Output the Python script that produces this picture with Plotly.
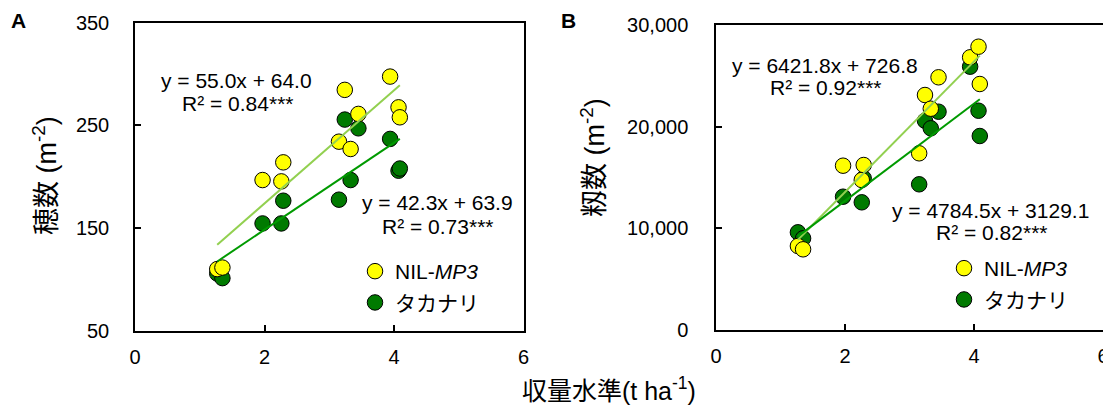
import numpy as np
import plotly.graph_objects as go

# ---------------- data ----------------
yield_level = [1.27, 1.35, 1.97, 2.26, 2.29, 3.15, 3.24, 3.33, 3.45, 3.94, 4.07, 4.09]

panicles_nil = [110.2, 111.7, 196.8, 195.5, 214.0, 234.1, 284.5, 227.0, 261.1, 297.4, 267.5, 257.8]
panicles_tak = [105.9, 101.4, 154.6, 154.6, 176.7, 177.7, 255.6, 196.8, 247.1, 236.8, 205.9, 208.0]

grains_nil = [8262, 7937, 16161, 14754, 16229, 17380, 23115, 21767, 24856, 26823, 27866, 24197]
grains_tak = [9610, 9020, 13111, 12560, 14921, 14331, 20587, 19839, 21472, 25898, 21570, 19082]

# regression coefficients (slope, intercept) and R^2 labels
fit_a_nil = (55.0, 64.0, "0.84***")
fit_a_tak = (42.3, 63.9, "0.73***")
fit_b_nil = (6421.8, 726.8, "0.92***")
fit_b_tak = (4784.5, 3129.1, "0.82***")

series_names = ["NIL-<i>MP3</i>", "タカナリ"]
x_ticks = [0, 2, 4, 6]
y_ticks_a = [50, 150, 250, 350]
y_ticks_b = [0, 10000, 20000, 30000]

# ---------------- styling ----------------
W, H = 1111, 407
OX, OY = 8, 8   # page body margin offset of the rendered figure
FONT = "Liberation Sans, Arial, Noto Sans CJK JP, sans-serif"
YELLOW = "#FFFF00"
DKGREEN = "#007A00"
LINE_LIGHT = "#92D050"
LINE_DARK = "#009A00"


def px(x):
    return (x - OX) / W


def py(y):
    return 1 - (y - OY) / H


fig = go.Figure()


def add_panel(xa, ya, legend, y_nil, y_tak, fit_nil, fit_tak):
    xs = np.array(yield_level)
    # markers: green first (beneath), yellow on top
    fig.add_trace(go.Scatter(
        x=yield_level, y=y_tak, mode="markers", name=series_names[1],
        xaxis=xa, yaxis=ya, legend=legend, legendrank=2, legendgroup="t",
        marker=dict(size=15.5, color=DKGREEN, line=dict(color="black", width=1)),
    ))
    fig.add_trace(go.Scatter(
        x=yield_level, y=y_nil, mode="markers", name=series_names[0],
        xaxis=xa, yaxis=ya, legend=legend, legendrank=1, legendgroup="n",
        marker=dict(size=15.5, color=YELLOW, line=dict(color="black", width=1)),
    ))
    for (s, b, _), col in ((fit_nil, LINE_LIGHT), (fit_tak, LINE_DARK)):
        lx = np.array([xs.min(), xs.max()])
        fig.add_trace(go.Scatter(
            x=lx, y=s * lx + b, mode="lines", showlegend=False,
            xaxis=xa, yaxis=ya, line=dict(color=col, width=2),
        ))


add_panel("x", "y", "legend", panicles_nil, panicles_tak, fit_a_nil, fit_a_tak)
add_panel("x2", "y2", "legend2", grains_nil, grains_tak, fit_b_nil, fit_b_tak)

axis_common = dict(
    showline=True, linecolor="black", linewidth=1.5, mirror=True,
    ticks="inside", ticklen=6, tickwidth=1.5, tickcolor="black",
    showgrid=False, zeroline=False, automargin=False,
    tickfont=dict(family=FONT, size=20, color="black"),
)

fig.update_layout(
    width=W, height=H,
    margin=dict(l=0, r=0, t=0, b=0, autoexpand=False),
    paper_bgcolor="white", plot_bgcolor="white",
    font=dict(family=FONT, color="black"),
    xaxis=dict(domain=[px(135), px(523.5)], range=[0, 6], tickvals=x_ticks,
               anchor="y", ticklabelstandoff=7, **axis_common),
    yaxis=dict(domain=[py(331), py(22.5)], range=[50, 350], tickvals=y_ticks_a,
               anchor="x", ticklabelstandoff=20, **axis_common),
    xaxis2=dict(domain=[px(716), px(1103)], range=[0, 6], tickvals=x_ticks,
                anchor="y2", ticklabelstandoff=7, **axis_common),
    yaxis2=dict(domain=[py(330), py(25)], range=[0, 30000], tickvals=y_ticks_b,
                tickformat=",", anchor="x2", ticklabelstandoff=22, **axis_common),
    legend=dict(x=px(355), y=py(251), xanchor="left", yanchor="top",
                bgcolor="rgba(0,0,0,0)", font=dict(family=FONT, size=21),
                tracegroupgap=1, traceorder="grouped"),
    legend2=dict(x=px(944), y=py(248), xanchor="left", yanchor="top",
                 bgcolor="rgba(0,0,0,0)", font=dict(family=FONT, size=21),
                 tracegroupgap=1, traceorder="grouped"),
)

ann = []


def text(x, y, t, size=21, **kw):
    ann.append(dict(x=px(x), y=py(y), xref="paper", yref="paper", text=t,
                    showarrow=False, font=dict(family=FONT, size=size, color="black"),
                    xanchor="center", yanchor="middle", **kw))


def eq(s, b):
    return f"y = {s:.1f}x + {b:.1f}"


text(236, 80, eq(*fit_a_nil[:2]))
text(237, 104, "R² = " + fit_a_nil[2])
text(437, 202, eq(*fit_a_tak[:2]))
text(437, 227, "R² = " + fit_a_tak[2])
text(825, 65, eq(*fit_b_nil[:2]))
text(825, 88, "R² = " + fit_b_nil[2])
text(990, 210, eq(*fit_b_tak[:2]))
text(991, 232, "R² = " + fit_b_tak[2])

text(18, 21, "<b>A</b>", size=21)
text(568, 21, "<b>B</b>", size=21)

text(45, 176, "穂数 (m<sup>-2</sup>)", size=27, textangle=-90)
text(593, 158, "籾数 (m<sup>-2</sup>)", size=27, textangle=-90)
text(609, 389, "収量水準(t ha<sup>-1</sup>)", size=25)

fig.update_layout(annotations=ann)

fig.write_html("out.html")
